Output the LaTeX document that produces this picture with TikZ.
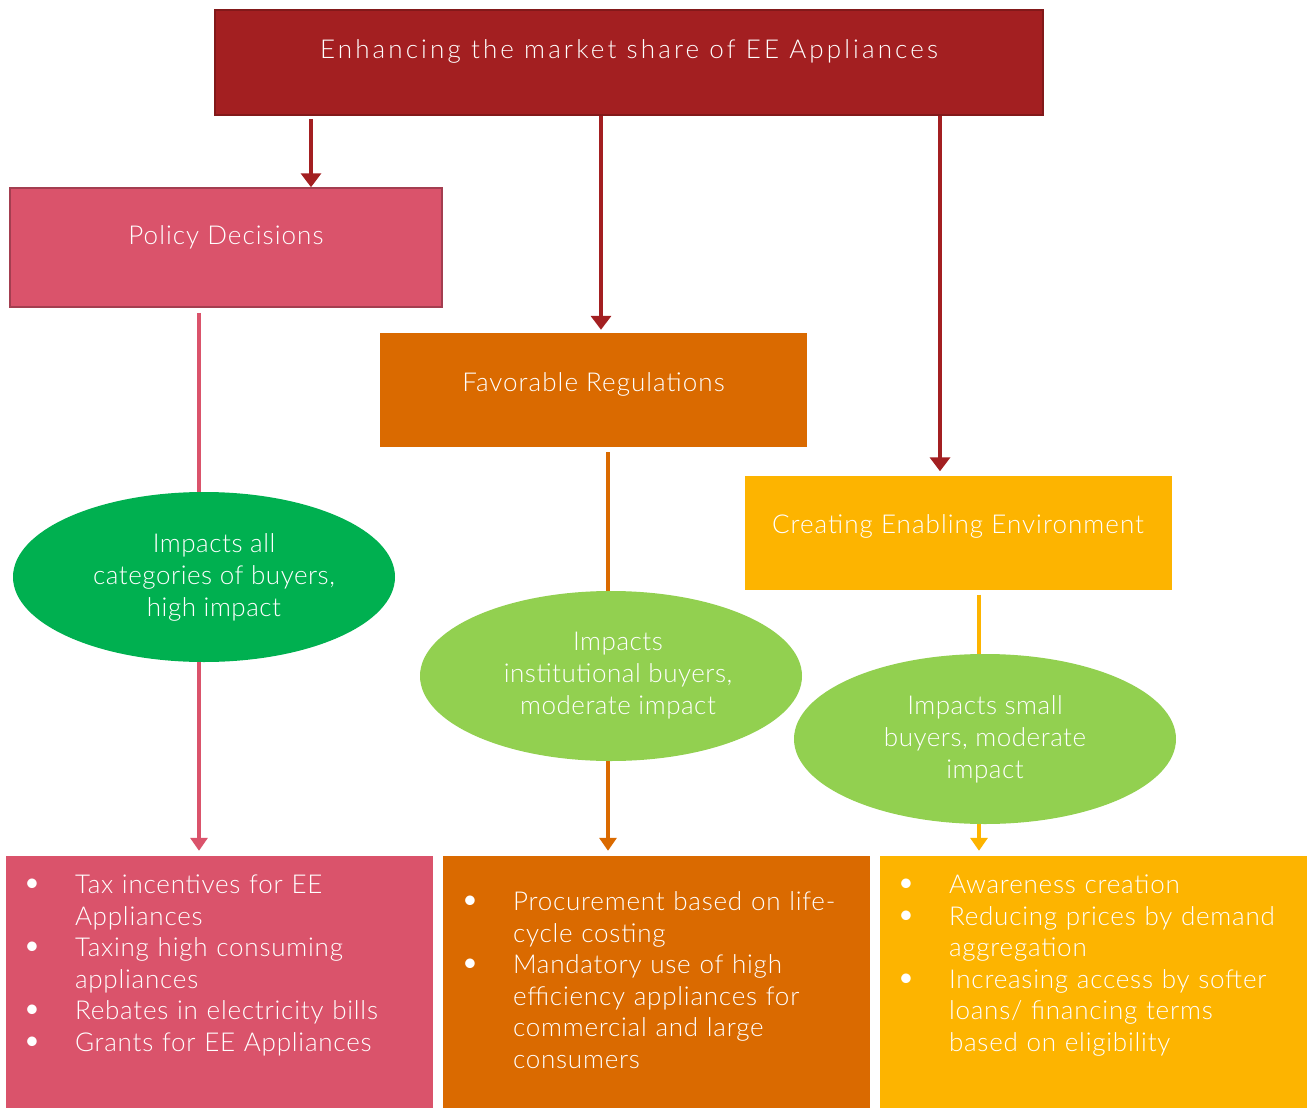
\documentclass[tikz,border=0pt]{standalone}
\usepackage{fontspec}
\setmainfont{Lato Light}[LetterSpace=2]
\usetikzlibrary{shapes.geometric,arrows.meta}
\definecolor{topred}{HTML}{A31F21}
\definecolor{polpink}{HTML}{DA536B}
\definecolor{regorange}{HTML}{DA6A00}
\definecolor{envyellow}{HTML}{FDB400}
\definecolor{hardgreen}{HTML}{00B050}
\definecolor{softgreen}{HTML}{92D050}
\newenvironment{bulletlist}{\begin{list}{\makebox[0pt]{\scalebox{1.25}{\textbullet}}}{%
  \setlength\leftmargin{43pt}\setlength\labelwidth{0pt}\setlength\labelsep{43pt}%
  \setlength\itemsep{0pt}\setlength\parsep{0pt}\setlength\topsep{0pt}\setlength\partopsep{0pt}}}%
  {\end{list}}
\begin{document}
\begin{tikzpicture}[x=1pt, y=-1pt, every node/.style={text=white, font=\fontsize{26}{32}\selectfont},
    headbox/.style={rectangle, draw=topred!80!black, fill=topred, line width=1.5pt, minimum width=828pt, minimum height=105pt, text depth=26pt, font=\fontsize{26}{32}\selectfont\addfontfeatures{LetterSpace=12}},
    catbox/.style={rectangle, minimum width=427pt, minimum height=114pt, text depth=16pt, font=\fontsize{26}{32}\selectfont\addfontfeatures{LetterSpace=4}},
    listbox/.style={rectangle, minimum width=427pt, minimum height=252pt},
    listtxt/.style={anchor=north west, inner sep=0pt, text width=400pt, align=left, font=\fontsize{26}{31.5}\selectfont\addfontfeatures{LetterSpace=3}},
    impact/.style={ellipse, minimum width=382pt, minimum height=170pt, inner sep=0pt, align=center},
    toparr/.style={draw=topred, line width=4.5pt, -{Triangle[length=14pt,width=20pt]}},
    downarr/.style={line width=4pt, -{Triangle[length=13pt,width=17pt]}, shorten <=5pt, shorten >=5pt}]
    \useasboundingbox (0,0) rectangle (1312,1108);
    % columns of the connectors
    \coordinate (c1) at (311,0);
    \coordinate (c2) at (601,0);
    \coordinate (c3) at (940,0);
    \coordinate (d1) at (199,0);
    \coordinate (d2) at (608,0);
    \coordinate (d3) at (979,0);
    % boxes
    \node[headbox] (head) at (629,62.5) {Enhancing the market share of EE Appliances};
    \node[catbox, draw=polpink!75!black, line width=1.5pt, fill=polpink, minimum width=432pt, minimum height=119pt, text depth=24pt] (policy) at (226,247.5) {Policy Decisions};
    \node[catbox, fill=regorange] (regul) at (593.5,390) {Favorable Regulations};
    \node[catbox, fill=envyellow] (enabl) at (958,532.5) {Creating Enabling Environment};
    \node[listbox, fill=polpink] (listA) at (219.5,982) {};
    \node[listbox, fill=regorange] (listB) at (656.5,982) {};
    \node[listbox, fill=envyellow] (listC) at (1093.5,982) {};
    % arrows
    \draw[toparr, shorten <=3pt, shorten >=0pt] (head.south -| c1) -- (policy.north -| c1);
    \draw[toparr, shorten >=3pt] (head.south -| c2) -- (regul.north -| c2);
    \draw[toparr, shorten >=4pt] (head.south -| c3) -- (enabl.north -| c3);
    \draw[downarr, draw=polpink] (policy.south -| d1) -- (listA.north -| d1);
    \draw[downarr, draw=regorange] (regul.south -| d2) -- (listB.north -| d2);
    \draw[downarr, draw=envyellow] (enabl.south -| d3) -- (listC.north -| d3);
    % impact ellipses
    \node[impact, fill=hardgreen] (impA) at (204,577) {\hspace{20pt}Impacts all\\\hspace{20pt}categories of buyers,\\\hspace{20pt}high impact};
    \node[impact, fill=softgreen] (impB) at (611,676) {\hspace{14pt}Impacts\\\hspace{14pt}institutional buyers,\\\hspace{14pt}moderate impact};
    \node[impact, fill=softgreen] (impC) at (985,739) {Impacts small\\buyers, moderate\\impact};
    % bullet texts
    \node[listtxt] (txtA) at ([xshift=26pt, yshift=-6pt]listA.north west) {\begin{bulletlist}
      \item Tax incentives for EE\\Appliances
      \item Taxing high consuming\\appliances
      \item Rebates in electricity bills
      \item Grants for EE Appliances
    \end{bulletlist}};
    \node[listtxt] (txtB) at ([xshift=27pt, yshift=-23pt]listB.north west) {\begin{bulletlist}
      \item Procurement based on life-\\cycle costing
      \item Mandatory use of high\\efficiency appliances for\\commercial and large\\consumers
    \end{bulletlist}};
    \node[listtxt] (txtC) at ([xshift=26pt, yshift=-6pt]listC.north west) {\begin{bulletlist}
      \item Awareness creation
      \item Reducing prices by demand\\aggregation
      \item Increasing access by softer\\loans/ financing terms\\based on eligibility
    \end{bulletlist}};
\end{tikzpicture}
\end{document}
